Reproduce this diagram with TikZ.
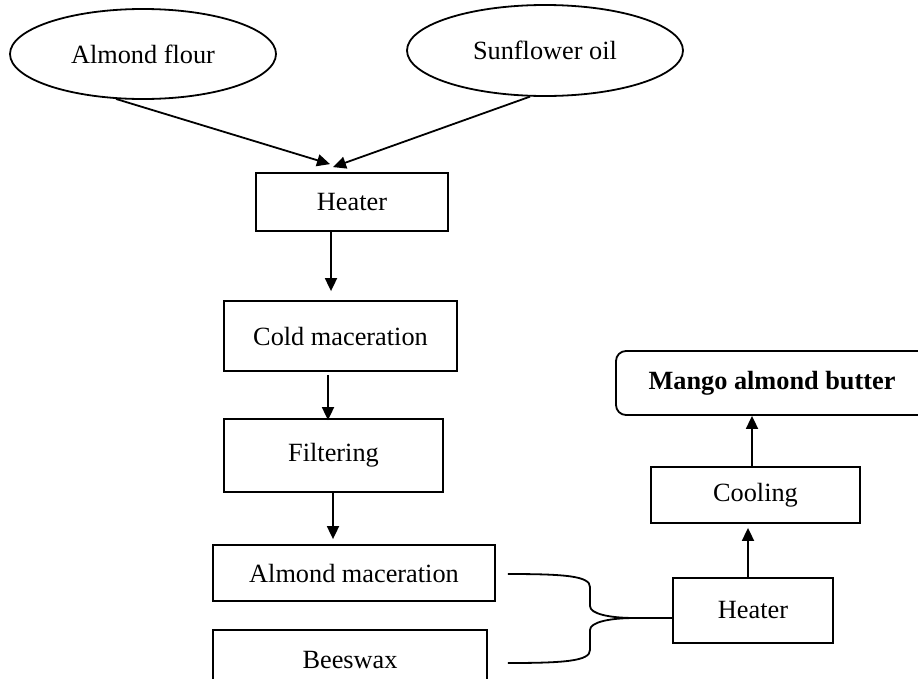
\documentclass[tikz,border=0pt]{standalone}
\usepackage{fontspec}
\setmainfont{Liberation Serif}
\usetikzlibrary{shapes.geometric,arrows.meta,calc}

\begin{document}
\begin{tikzpicture}
[x=1pt,y=1pt,
  lineDecorate/.style={-{Triangle[length=13pt,width=12pt]},line width=1.8pt},
  braceDecorate/.style={line width=1.8pt},
  boxDecorate/.style={shape=rectangle,draw,line width=1.8pt,inner sep=0pt},
  ovalDecorate/.style={shape=ellipse,draw,line width=1.8pt,inner sep=0pt},
  font=\fontsize{26.3}{31}\selectfont]
\useasboundingbox (0,0) rectangle (918,-678);
%% inputs
\node (almond) at (143,-54) [ovalDecorate,minimum width=266pt,minimum height=90pt] {Almond flour};
\node (sunflower) at (545,-50.5) [ovalDecorate,minimum width=276pt,minimum height=91pt] {Sunflower oil};
%% process steps
\foreach \nodename/\x/\y/\w/\h/\txt in {
  heaterA/352/-202/192/58/Heater,
  cold/340.5/-336/233/70/Cold maceration,
  filter/333.5/-455.5/219/73/Filtering,
  almmac/354/-573/282/56/Almond maceration,
  beeswax/350/-660/274/60/Beeswax,
  heaterB/753/-610.5/160/65/Heater,
  cooling/755.5/-495/209/56/Cooling}
{
  \node (\nodename) at (\x,\y) [boxDecorate,minimum width=\w pt,minimum height=\h pt] {\txt};
}
\node (mango) at (772,-383) [boxDecorate,rounded corners=10pt,minimum width=312pt,minimum height=64pt] {\bfseries Mango almond butter};
%% arrows
\draw[lineDecorate] (almond.239) -- ($(heaterA.north)+(-22,8)$);
\draw[lineDecorate] (sunflower.252) -- ($(heaterA.north)+(-19,5)$);
\draw[lineDecorate] ($(heaterA.south)+(-21,0)$) -- ($(cold.north)+(-9.5,9)$);
\draw[lineDecorate] ($(cold.south)+(-12.5,-3)$) -- ($(filter.north)+(-5.5,-2)$);
\draw[lineDecorate] ($(filter.south)+(-0.5,0)$) -- ($(almmac.north)+(-21,5)$);
\draw[lineDecorate] ($(heaterB.north)+(-5,0)$) -- ($(cooling.south)+(-7.5,-4)$);
\draw[lineDecorate] ($(cooling.north)+(-3.5,0)$) -- ($(mango.south)+(-20,0)$);
%% brace into the second heater
\coordinate (tip) at (635,-618);
\draw[braceDecorate] ($(almmac.east)+(12,-1)$) .. controls (565,-574) and (590,-576) .. (590,-587)
  -- (590,-606) .. controls (590,-614) and (610,-618) .. (tip) -- ($(heaterB.west)+(0,-7.5)$);
\draw[braceDecorate] ($(beeswax.east)+(20,-3)$) .. controls (565,-663) and (590,-661) .. (590,-650)
  -- (590,-630) .. controls (590,-622) and (610,-618) .. (tip);
\end{tikzpicture}
\end{document}
